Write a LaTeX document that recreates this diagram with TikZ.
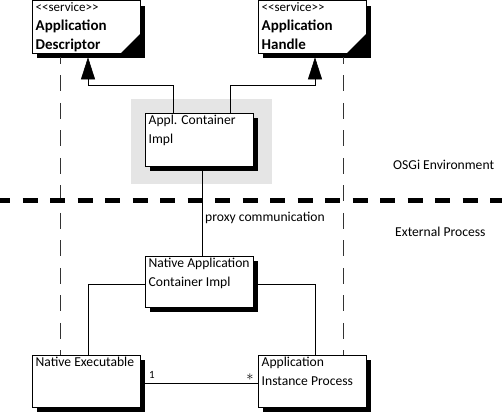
\documentclass[tikz,border=0pt]{standalone}
\usepackage{fontspec}
\setmainfont{Carlito}
\usetikzlibrary{shadows,arrows.meta}
\tikzset{
  classbox/.style={rectangle, draw=black, fill=white, line width=0.8pt, minimum width=108pt, minimum height=52pt, inner sep=0pt, anchor=north west,
    drop shadow={shadow xshift=5pt, shadow yshift=-5pt, fill=black, opacity=1}},
  boxtext/.style={anchor=north west, align=left, inner xsep=3.5pt, inner ysep=2pt, font=\fontsize{13.6}{19}\selectfont},
  plain/.style={anchor=west, inner sep=0pt, font=\fontsize{13.6}{15}\selectfont},
  link/.style={draw=black, line width=0.6pt},
  lifeline/.style={draw=black!80, line width=0.8pt, dash pattern=on 16pt off 11.5pt, dash phase=9.5pt},
  realize/.style={link, -{Triangle[width=14pt,length=22pt]}},
  mult/.style={inner sep=0pt, font=\fontsize{11}{12}\selectfont}
}
\newcommand{\stereo}[1]{{\fontsize{13}{14}\selectfont{<}{<}#1{>}{>}}}
\begin{document}
\begin{tikzpicture}[x=1pt,y=-1pt]
\useasboundingbox (0,0) rectangle (502,412);
% grey area round the container
\fill[black!10] (131,99) rectangle (272,184);
% boxes
\node[classbox] (desc) at (32,0.5) {};
\node[boxtext, inner ysep=1.5pt] (descT) at (desc.north west) {\stereo{service}\\\textbf{\fontsize{15}{19}\selectfont Application}\\\textbf{\fontsize{15}{19}\selectfont Descriptor}};
\node[classbox] (handle) at (258,0.5) {};
\node[boxtext, inner ysep=1.5pt] (handleT) at (handle.north west) {\stereo{service}\\\textbf{\fontsize{15}{19}\selectfont Application}\\\textbf{\fontsize{15}{19}\selectfont Handle}};
\fill (desc.south east) -- ++(0,-20) -- ++(-20,20) -- cycle;
\fill (handle.south east) -- ++(0,-20) -- ++(-20,20) -- cycle;
\node[classbox, minimum height=53pt] (container) at (145,113) {};
\node[boxtext] (containerT) at (container.north west) {Appl. Container\\Impl};
\node[classbox, minimum height=51pt] (native) at (145,256) {};
\node[boxtext] (nativeT) at (native.north west) {Native Application\\Container Impl};
\node[classbox] (nexec) at (32,355) {};
\node[boxtext] (nexecT) at (nexec.north west) {Native Executable};
\node[classbox] (aip) at (258,355) {};
\node[boxtext] (aipT) at (aip.north west) {Application\\Instance Process};
% lifelines
\draw[lifeline] ([xshift=28pt,yshift=-4pt]desc.south west) -- ([xshift=28pt]nexec.north west);
\draw[lifeline] ([xshift=85pt,yshift=-4pt]handle.south west) -- ([xshift=85pt]aip.north west);
% realizations
\draw[realize] ([xshift=28pt]container.north west) -- ++(0,-28) -| ([xshift=56pt,yshift=-4pt]desc.south west);
\draw[realize] ([xshift=85pt]container.north west) -- ++(0,-28) -| ([xshift=57pt,yshift=-4pt]handle.south west);
% environment border
\coordinate (sepW) at (0,200.5);
\coordinate (sepE) at (502,200.5);
\draw[line width=5pt, dash pattern=on 15pt off 12.5pt, dash phase=5pt] (sepW) -- (sepE);
\node[plain] (osgi) at (393,165) {OSGi Environment};
\node[plain] (ext) at (395,232) {External Process};
% associations
\draw[link] ([xshift=57pt]container.south west) -- ([xshift=57pt]native.north west);
\node[plain] (proxy) at (205,218) {proxy communication};
\draw[link] ([yshift=-28pt]native.north west) -| ([xshift=56pt]nexec.north west);
\draw[link] ([yshift=-28pt]native.north east) -| ([xshift=57pt]aip.north west);
\draw[link] ([yshift=-28pt]nexec.north east) -- ([yshift=-28pt]aip.north west);
\node[mult] (one) at (152,375) {1};
\node[mult] (many) at (250,377) {\fontsize{14}{14}\selectfont $\ast$};
\end{tikzpicture}
\end{document}
